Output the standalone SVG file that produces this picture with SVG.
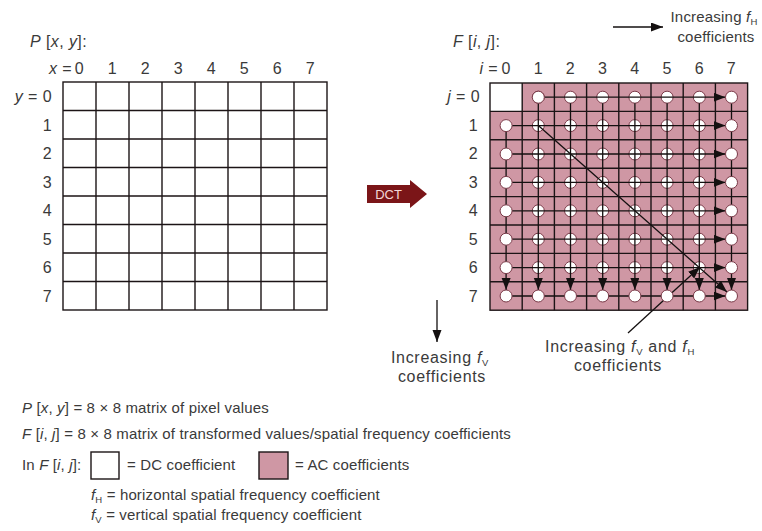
<svg xmlns="http://www.w3.org/2000/svg" width="762" height="531" viewBox="0 0 762 531">
<defs>
<style>
text{font-family:"Liberation Sans",Arial,sans-serif;fill:#3a3a3a;font-size:16px;letter-spacing:0.4px}
.it{font-style:italic}
.sub{font-size:9.5px}
.lg{font-size:15px;letter-spacing:0.15px}
.tr{font-size:15px;letter-spacing:0.2px}
.lb{letter-spacing:0.7px}
.grid{stroke:#1c1416;stroke-width:1.4;fill:none}
.arr{stroke:#141010;stroke-width:1.3;fill:none}
.c{fill:#ffffff;stroke:#7a3a48;stroke-width:1}
.pink{fill:#cf97a4}
</style>
<marker id="ah" markerUnits="userSpaceOnUse" markerWidth="13" markerHeight="10" refX="12" refY="4.5" orient="auto">
<path d="M0,0 L12,4.5 L0,9 z" fill="#141010"/>
</marker>
</defs>
<rect width="762" height="531" fill="#ffffff"/>

<g id="left-matrix">
<text x="30" y="47"><tspan class="it">P</tspan> [<tspan class="it">x</tspan>, <tspan class="it">y</tspan>]:</text>
<g text-anchor="middle">
<text x="79.5" y="74">0</text><text x="112.5" y="74">1</text><text x="145.5" y="74">2</text><text x="178.5" y="74">3</text><text x="211.5" y="74">4</text><text x="244.5" y="74">5</text><text x="277.5" y="74">6</text><text x="310.5" y="74">7</text>
</g>
<text x="72" y="74" text-anchor="end"><tspan class="it">x</tspan> =</text>
<g text-anchor="end">
<text x="52" y="102"><tspan class="it">y</tspan> = 0</text>
<text x="52" y="131">1</text><text x="52" y="159">2</text><text x="52" y="188">3</text><text x="52" y="216">4</text><text x="52" y="245">5</text><text x="52" y="273">6</text><text x="52" y="302">7</text>
</g>
<rect x="63" y="82" width="264" height="228" class="grid"/>
<path class="grid" d="M96,82V310M129,82V310M162,82V310M195,82V310M228,82V310M261,82V310M294,82V310M63,110.5H327M63,139H327M63,167.5H327M63,196H327M63,224.5H327M63,253H327M63,281.5H327"/>
</g>

<g id="dct-arrow">
<polygon points="367,185 410,185 410,180 427,194 410,208 410,203 367,203" fill="#7b1518"/>
<text x="388.5" y="199" text-anchor="middle" style="font-size:13px;letter-spacing:0;fill:#f3d6d6">DCT</text>
</g>

<g id="right-matrix">
<text x="453" y="47"><tspan class="it">F</tspan> [<tspan class="it">i</tspan>, <tspan class="it">j</tspan>]:</text>
<g text-anchor="middle">
<text x="506.1" y="74">0</text><text x="538.3" y="74">1</text><text x="570.5" y="74">2</text><text x="602.7" y="74">3</text><text x="634.9" y="74">4</text><text x="667.1" y="74">5</text><text x="699.3" y="74">6</text><text x="731.5" y="74">7</text>
</g>
<text x="498" y="74" text-anchor="end"><tspan class="it">i</tspan> =</text>
<g text-anchor="end">
<text x="480" y="102"><tspan class="it">j</tspan> = 0</text>
<text x="478" y="131">1</text><text x="478" y="159">2</text><text x="478" y="188">3</text><text x="478" y="216">4</text><text x="478" y="245">5</text><text x="478" y="273">6</text><text x="478" y="302">7</text>
</g>
<rect x="490" y="83" width="257.6" height="227.2" class="pink"/>
<rect x="490" y="83" width="32.2" height="28.4" fill="#ffffff"/>
<rect x="490" y="83" width="257.6" height="227.2" class="grid"/>
<path class="grid" d="M522.2,83V310.2M554.4,83V310.2M586.6,83V310.2M618.8,83V310.2M651,83V310.2M683.2,83V310.2M715.4,83V310.2M490,111.4H747.6M490,139.8H747.6M490,168.2H747.6M490,196.6H747.6M490,225H747.6M490,253.4H747.6M490,281.8H747.6"/>
<g id="coeff-circles">
<g class="c">
<circle cx="538.3" cy="97.2" r="6"/><circle cx="570.5" cy="97.2" r="6"/><circle cx="602.7" cy="97.2" r="6"/><circle cx="634.9" cy="97.2" r="6"/><circle cx="667.1" cy="97.2" r="6"/><circle cx="699.3" cy="97.2" r="6"/>
<circle cx="538.3" cy="125.6" r="6"/><circle cx="570.5" cy="125.6" r="6"/><circle cx="602.7" cy="125.6" r="6"/><circle cx="634.9" cy="125.6" r="6"/><circle cx="667.1" cy="125.6" r="6"/><circle cx="699.3" cy="125.6" r="6"/>
<circle cx="538.3" cy="154" r="6"/><circle cx="570.5" cy="154" r="6"/><circle cx="602.7" cy="154" r="6"/><circle cx="634.9" cy="154" r="6"/><circle cx="667.1" cy="154" r="6"/><circle cx="699.3" cy="154" r="6"/>
<circle cx="538.3" cy="182.4" r="6"/><circle cx="570.5" cy="182.4" r="6"/><circle cx="602.7" cy="182.4" r="6"/><circle cx="634.9" cy="182.4" r="6"/><circle cx="667.1" cy="182.4" r="6"/><circle cx="699.3" cy="182.4" r="6"/>
<circle cx="538.3" cy="210.8" r="6"/><circle cx="570.5" cy="210.8" r="6"/><circle cx="602.7" cy="210.8" r="6"/><circle cx="634.9" cy="210.8" r="6"/><circle cx="667.1" cy="210.8" r="6"/><circle cx="699.3" cy="210.8" r="6"/>
<circle cx="538.3" cy="239.2" r="6"/><circle cx="570.5" cy="239.2" r="6"/><circle cx="602.7" cy="239.2" r="6"/><circle cx="634.9" cy="239.2" r="6"/><circle cx="667.1" cy="239.2" r="6"/><circle cx="699.3" cy="239.2" r="6"/>
<circle cx="538.3" cy="267.6" r="6"/><circle cx="570.5" cy="267.6" r="6"/><circle cx="602.7" cy="267.6" r="6"/><circle cx="634.9" cy="267.6" r="6"/><circle cx="667.1" cy="267.6" r="6"/><circle cx="699.3" cy="267.6" r="6"/>
</g>
</g>
</g>

<g id="connectors">
<g class="arr" marker-end="url(#ah)">
<path d="M544.3,97.2H725.5"/>
<path d="M512.1,125.6H725.5"/><path d="M512.1,154H725.5"/><path d="M512.1,182.4H725.5"/><path d="M512.1,210.8H725.5"/><path d="M512.1,239.2H725.5"/><path d="M512.1,267.6H725.5"/><path d="M512.1,296H725.5"/>
<path d="M506.1,131.6V290"/>
<path d="M538.3,103.2V290"/><path d="M570.5,103.2V290"/><path d="M602.7,103.2V290"/><path d="M634.9,103.2V290"/><path d="M667.1,103.2V290"/><path d="M699.3,103.2V290"/><path d="M731.5,103.2V290"/>
<path d="M538.3,125.6L727,292"/>
<path d="M628,333L700,267"/>
<path d="M437,300V342"/>
<path d="M613,27H663"/>
</g>
</g>

<g id="edge-circles" class="c">
<circle cx="538.3" cy="97.2" r="6"/>
<circle cx="731.5" cy="97.2" r="6"/><circle cx="731.5" cy="125.6" r="6"/><circle cx="731.5" cy="154" r="6"/><circle cx="731.5" cy="182.4" r="6"/><circle cx="731.5" cy="210.8" r="6"/><circle cx="731.5" cy="239.2" r="6"/><circle cx="731.5" cy="267.6" r="6"/><circle cx="731.5" cy="296" r="6"/>
<circle cx="506.1" cy="125.6" r="6"/><circle cx="506.1" cy="154" r="6"/><circle cx="506.1" cy="182.4" r="6"/><circle cx="506.1" cy="210.8" r="6"/><circle cx="506.1" cy="239.2" r="6"/><circle cx="506.1" cy="267.6" r="6"/><circle cx="506.1" cy="296" r="6"/>
<circle cx="538.3" cy="296" r="6"/><circle cx="570.5" cy="296" r="6"/><circle cx="602.7" cy="296" r="6"/><circle cx="634.9" cy="296" r="6"/><circle cx="667.1" cy="296" r="6"/><circle cx="699.3" cy="296" r="6"/>
</g>

<g id="labels">
<text class="tr" x="714" y="22" text-anchor="middle">Increasing <tspan class="it">f</tspan><tspan class="sub" dy="3">H</tspan></text>
<text class="tr" x="716" y="42" text-anchor="middle">coefficients</text>
<text class="lb" x="440" y="363" text-anchor="middle">Increasing <tspan class="it">f</tspan><tspan class="sub" dy="3">V</tspan></text>
<text class="lb" x="442" y="382" text-anchor="middle">coefficients</text>
<text class="lb" x="620" y="352" text-anchor="middle">Increasing <tspan class="it">f</tspan><tspan class="sub" dy="3">V</tspan><tspan dy="-3"> and </tspan><tspan class="it">f</tspan><tspan class="sub" dy="3">H</tspan></text>
<text class="lb" x="618" y="371" text-anchor="middle">coefficients</text>
</g>

<g id="legend">
<text class="lg" x="22" y="413"><tspan class="it">P</tspan> [<tspan class="it">x</tspan>, <tspan class="it">y</tspan>] = 8 × 8 matrix of pixel values</text>
<text class="lg" x="22" y="439"><tspan class="it">F</tspan> [<tspan class="it">i</tspan>, <tspan class="it">j</tspan>] = 8 × 8 matrix of transformed values/spatial frequency coefficients</text>
<text class="lg" x="22" y="470">In <tspan class="it">F</tspan> [<tspan class="it">i</tspan>, <tspan class="it">j</tspan>]:</text>
<rect x="91" y="452" width="28" height="27" fill="#ffffff" stroke="#1c1416" stroke-width="1.4"/>
<text class="lg" x="127" y="470">= DC coefficient</text>
<rect x="259" y="452" width="29" height="27" class="pink" stroke="#1c1416" stroke-width="1.4"/>
<text class="lg" x="295" y="470">= AC coefficients</text>
<text class="lg" x="91" y="500"><tspan class="it">f</tspan><tspan class="sub" dy="3">H</tspan><tspan dy="-3"> = horizontal spatial frequency coefficient</tspan></text>
<text class="lg" x="91" y="520"><tspan class="it">f</tspan><tspan class="sub" dy="3">V</tspan><tspan dy="-3"> = vertical spatial frequency coefficient</tspan></text>
</g>
</svg>
